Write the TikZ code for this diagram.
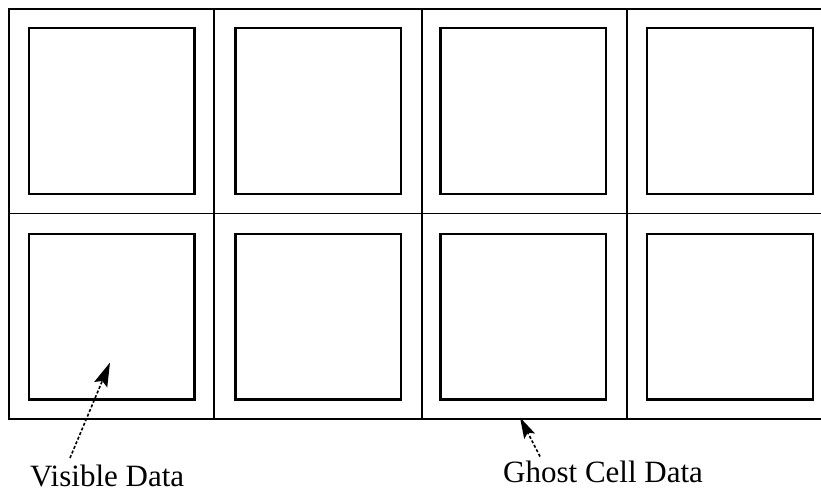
\documentclass[tikz,border=0pt]{standalone}
\usepackage{fontspec}
\setmainfont{Liberation Serif}
\usetikzlibrary{arrows.meta}
\begin{document}
\begin{tikzpicture}[x=1pt,y=-1pt,
  gridline/.style={line width=1.7pt, line cap=rect},
  databox/.style={draw, line width=2.2pt, minimum width=165.5pt, minimum height=165.5pt, inner sep=0pt},
  label/.style={anchor=base west, inner sep=0pt, font=\fontsize{31}{33}\selectfont},
  pointer/.style={line width=1.6pt, dash pattern=on 3pt off 2pt}
]
\useasboundingbox (0,0) rectangle (821,494);

% cell grid (runs off the right edge)
\draw[gridline] (821,9.3) -- (8.7,9.3) -- (8.7,418.7) -- (821,418.7);
\draw[gridline] (8.7,213.6) -- (821,213.6);
\draw[gridline] (214.3,9.3) -- (214.3,418.7);
\draw[gridline] (422,9.3) -- (422,418.7);
\draw[gridline] (627.3,9.3) -- (627.3,418.7);

% visible-data boxes inside each cell
\node[databox] (v11) at (111.7,111) {};
\node[databox] (v12) at (318.3,111) {};
\node[databox] (v13) at (523.3,111) {};
\node[databox] (v14) at (730,111) {};
\node[databox] (v21) at (111.7,316.7) {};
\node[databox] (v22) at (318.3,316.7) {};
\node[databox] (v23) at (523.3,316.7) {};
\node[databox] (v24) at (730,316.7) {};

% labels
\node[label] (vis) at (30,486.7) {Visible Data};
\node[label] (ghost) at (503,482.7) {Ghost Cell Data};

% pointers
\coordinate (visTail) at (70,458);
\coordinate (visTip) at (110,362.5);
\coordinate (ghostTail) at (540,456.5);
\coordinate (ghostTip) at (520,417.5);
\draw[pointer, -{Stealth[length=24pt,width=14pt,inset=4pt]}] (visTail) -- (visTip);
\draw[pointer, -{Stealth[length=21pt,width=12pt,inset=4pt]}] (ghostTail) -- (ghostTip);
\end{tikzpicture}
\end{document}
